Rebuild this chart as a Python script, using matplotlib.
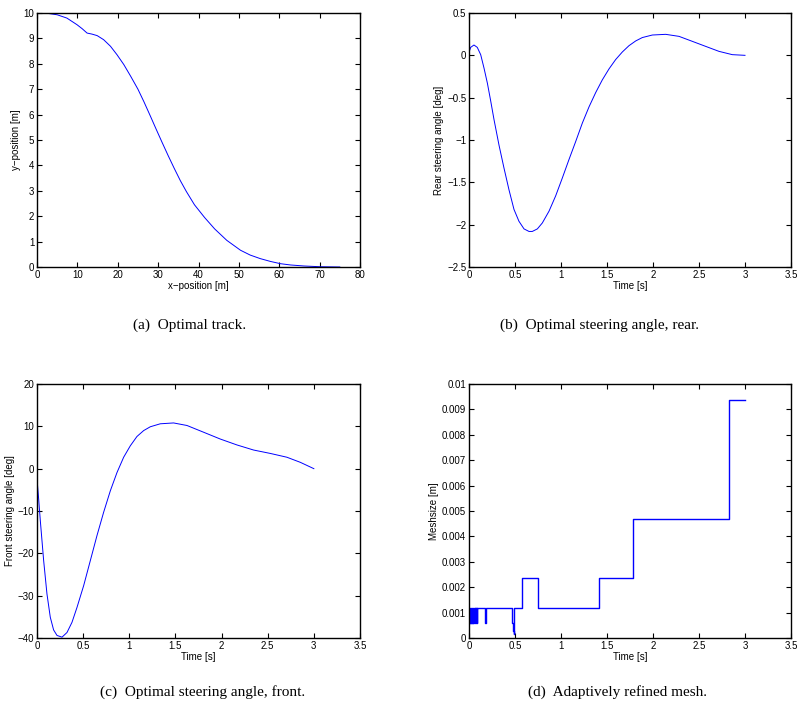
import matplotlib
matplotlib.use("Agg")
import matplotlib.pyplot as plt
import numpy as np

# (a) optimal track
track_x = [0, 2.5, 5, 7.4, 9.9, 11.2, 12.4, 13.6, 14.9, 16.5, 18.2, 19.8, 21.5,
           23.2, 25, 26.5, 28, 29.5, 31, 32.5, 34, 35.5, 37, 39, 41.5,
           44, 47, 50.4, 52.8, 55.3, 57.8, 60.3, 62.8, 66.1, 70.2, 75]
track_y = [10, 9.99, 9.93, 9.8, 9.54, 9.38, 9.21, 9.17, 9.11, 8.95, 8.69, 8.36, 7.97,
           7.51, 7.0, 6.5, 5.97, 5.43, 4.9, 4.38, 3.88, 3.4, 2.97, 2.45, 1.95,
           1.5, 1.05, 0.66, 0.47, 0.33, 0.22, 0.13, 0.08, 0.04, 0.01, 0.0]

# (b) rear steering angle
rear_t = [0, 0.018, 0.054, 0.09, 0.127, 0.163, 0.2, 0.236, 0.272, 0.326, 0.38,
          0.435, 0.489, 0.543, 0.598, 0.652, 0.688, 0.743, 0.797, 0.87, 0.942,
          1.014, 1.087, 1.159, 1.232, 1.304, 1.377, 1.449, 1.522, 1.594, 1.667,
          1.739, 1.812, 1.884, 1.993, 2.138, 2.283, 2.428, 2.572, 2.717, 2.862, 3.0]
rear_a = [0.035, 0.094, 0.122, 0.094, 0.008, -0.15, -0.33, -0.54, -0.76, -1.06, -1.33,
          -1.59, -1.82, -1.96, -2.05, -2.08, -2.08, -2.05, -1.98, -1.84, -1.66,
          -1.45, -1.23, -1.02, -0.80, -0.61, -0.44, -0.29, -0.16, -0.05, 0.04,
          0.114, 0.17, 0.21, 0.24, 0.248, 0.224, 0.165, 0.106, 0.047, 0.008, 0.0]

# (c) front steering angle
front_t = [0, 0.018, 0.036, 0.072, 0.108, 0.144, 0.18, 0.217, 0.271, 0.325, 0.379,
           0.433, 0.506, 0.578, 0.65, 0.722, 0.795, 0.867, 0.939, 1.011, 1.083,
           1.156, 1.228, 1.336, 1.48, 1.625, 1.806, 1.986, 2.167, 2.347, 2.528,
           2.708, 2.853, 3.0]
front_a = [-2.4, -7.2, -12.3, -21.7, -29.6, -35.1, -38.1, -39.4, -39.8, -38.7, -36.3,
           -32.8, -27.6, -21.7, -15.8, -10.3, -5.2, -0.9, 2.7, 5.4, 7.6,
           9.0, 9.9, 10.6, 10.8, 10.2, 8.6, 7.0, 5.6, 4.4, 3.6,
           2.7, 1.5, 0.0]

# (d) adaptively refined mesh (step values start at each time)
mesh_t = [0, 0.006, 0.012, 0.018, 0.024, 0.030, 0.036, 0.042, 0.048, 0.054,
          0.060, 0.066, 0.072, 0.078, 0.084, 0.090, 0.096, 0.177, 0.182,
          0.472, 0.480, 0.486, 0.490, 0.576, 0.754, 1.413, 1.786, 2.826, 3.0]
mesh_h = [0.000586, 0.001172, 0.000586, 0.001172, 0.000586, 0.001172, 0.000586,
          0.001172, 0.000586, 0.001172, 0.000586, 0.001172, 0.000586, 0.001172,
          0.000586, 0.001172, 0.001172, 0.000586, 0.001172,
          0.000586, 0.000293, 0.000146, 0.001172, 0.002344, 0.001172, 0.002344,
          0.004688, 0.009375, 0.009375]

captions = ["(a)  Optimal track.", "(b)  Optimal steering angle, rear.",
            "(c)  Optimal steering angle, front.", "(d)  Adaptively refined mesh."]

W, H = 798, 706
fig = plt.figure(figsize=(W / 100, H / 100), dpi=100)
plt.rcParams['font.family'] = ['Liberation Sans', 'DejaVu Sans']


def make_ax(l, t, r, b):
    return fig.add_axes([l / W, 1 - b / H, (r - l) / W, (b - t) / H])


def style(ax):
    ax.tick_params(direction='in', length=3.5, width=0.8, labelsize=7,
                   top=True, right=True, pad=2)
    for s in ax.spines.values():
        s.set_linewidth(1.0)


ax1 = make_ax(37, 13, 360, 267)
ax1.plot(track_x, track_y, color='blue', lw=0.7)
ax1.set_xlim(0, 80)
ax1.set_ylim(0, 10)
ax1.set_xticks(range(0, 81, 10))
ax1.set_yticks(range(0, 11))
ax1.set_xlabel('x\u2212position [m]', fontsize=7, labelpad=1)
ax1.set_ylabel('y\u2212position [m]', fontsize=7, labelpad=2)
style(ax1)

ax2 = make_ax(469, 13, 791, 267)
ax2.plot(rear_t, rear_a, color='blue', lw=0.7)
ax2.set_xlim(0, 3.5)
ax2.set_ylim(-2.5, 0.5)
ax2.set_xticks(np.arange(0, 3.51, 0.5))
ax2.set_xticklabels(['0', '0.5', '1', '1.5', '2', '2.5', '3', '3.5'])
ax2.set_yticks(np.arange(-2.5, 0.51, 0.5))
ax2.set_yticklabels(['\u22122.5', '\u22122', '\u22121.5', '\u22121', '\u22120.5', '0', '0.5'])
ax2.set_xlabel('Time [s]', fontsize=7, labelpad=1)
ax2.set_ylabel('Rear steering angle [deg]', fontsize=7, labelpad=2)
style(ax2)

ax3 = make_ax(37, 384, 360, 638)
ax3.plot(front_t, front_a, color='blue', lw=0.7)
ax3.set_xlim(0, 3.5)
ax3.set_ylim(-40, 20)
ax3.set_xticks(np.arange(0, 3.51, 0.5))
ax3.set_xticklabels(['0', '0.5', '1', '1.5', '2', '2.5', '3', '3.5'])
ax3.set_yticks(range(-40, 21, 10))
ax3.set_yticklabels(['\u221240', '\u221230', '\u221220', '\u221210', '0', '10', '20'])
ax3.set_xlabel('Time [s]', fontsize=7, labelpad=1)
ax3.set_ylabel('Front steering angle [deg]', fontsize=7, labelpad=2)
style(ax3)

ax4 = make_ax(469, 384, 791, 638)
ax4.plot(mesh_t, mesh_h, color='blue', lw=1.0, drawstyle='steps-post')
ax4.set_xlim(0, 3.5)
ax4.set_ylim(0, 0.01)
ax4.set_xticks(np.arange(0, 3.51, 0.5))
ax4.set_xticklabels(['0', '0.5', '1', '1.5', '2', '2.5', '3', '3.5'])
ax4.set_yticks(np.arange(0, 0.0101, 0.001))
ax4.set_yticklabels(['0', '0.001', '0.002', '0.003', '0.004', '0.005', '0.006',
                     '0.007', '0.008', '0.009', '0.01'])
ax4.set_xlabel('Time [s]', fontsize=7, labelpad=1)
ax4.set_ylabel('Meshsize [m]', fontsize=7, labelpad=2)
style(ax4)

cap_pos = [(190, 325), (600, 325), (203, 692), (617, 692)]
for (cx, cy), txt in zip(cap_pos, captions):
    fig.text(cx / W, 1 - cy / H, txt, ha='center', va='center', fontsize=11,
             family=['Liberation Serif', 'DejaVu Serif'])

fig.savefig('out.png', dpi=100)
